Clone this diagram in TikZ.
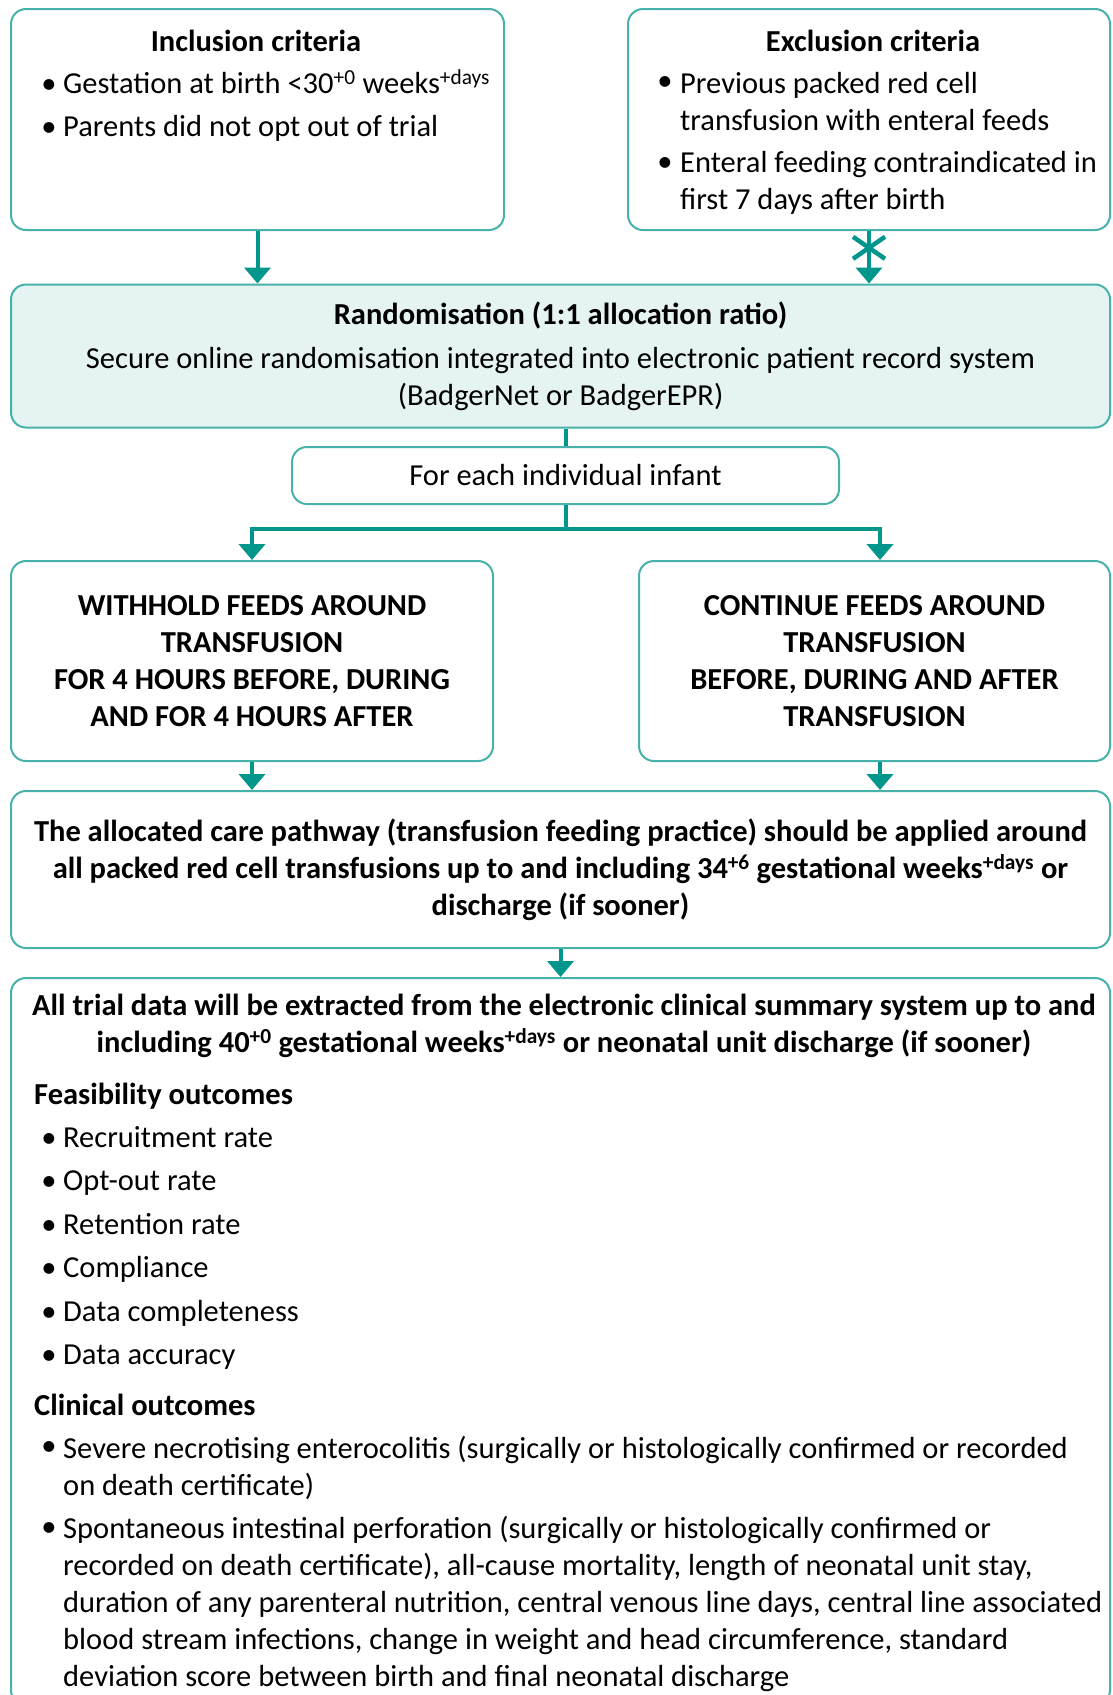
\documentclass[tikz,border=0pt]{standalone}
\usepackage{fontspec}
\setmainfont{Carlito}
\usetikzlibrary{arrows.meta,positioning}
\definecolor{tealline}{RGB}{0,150,140}
\definecolor{tealbox}{RGB}{70,178,170}
\definecolor{tealfill}{RGB}{229,244,242}

\begin{document}
\begin{tikzpicture}[x=1pt, y=-1pt,
  every node/.style = {font=\fontsize{30.5}{37}\selectfont, inner sep=0pt},
  box/.style = {draw=tealbox, line width=2pt, rounded corners=15pt, align=center},
  boldbox/.style = {box, font=\fontsize{30.5}{37}\selectfont\bfseries},
  txt/.style = {anchor=west, align=left},
  item/.style = {txt, text height=24pt, text depth=3pt},
  head/.style = {font=\fontsize{30.5}{37}\selectfont\bfseries},
  bulletmark/.style = {anchor=center, text height=24pt, text depth=3pt},
  conn/.style = {draw=tealline, line width=4pt},
  arr/.style = {conn, -{Triangle[width=26pt,length=16pt]}}]
  \useasboundingbox (0,0) rectangle (1112,1695);

  % boxes
  \node[box, minimum width=493pt, minimum height=221pt] (incl) at (257.5,119.5) {};
  \node[box, minimum width=482pt, minimum height=221pt] (excl) at (869,119.5) {};
  \node[box, fill=tealfill, minimum width=1099pt, minimum height=143pt] (rand) at (560.5,356)
    {\textbf{Randomisation (1:1 allocation ratio)}\\[7pt]
     Secure online randomisation integrated into electronic patient record system\\
     (BadgerNet or BadgerEPR)};
  \node[box, minimum width=547pt, minimum height=57pt] (each) at (565.5,475.5) {For each individual infant};
  \node[boldbox, minimum width=482pt, minimum height=200pt] (hold) at (252,661)
    {WITHHOLD FEEDS AROUND\\TRANSFUSION\\FOR 4 HOURS BEFORE, DURING\\AND FOR 4 HOURS AFTER};
  \node[boldbox, minimum width=471pt, minimum height=200pt] (cont) at (874.5,661)
    {CONTINUE FEEDS AROUND\\TRANSFUSION\\BEFORE, DURING AND AFTER\\TRANSFUSION};
  \node[boldbox, minimum width=1099pt, minimum height=157pt] (alloc) at (560.5,869.5)
    {The allocated care pathway (transfusion feeding practice) should be applied around\\
     all packed red cell transfusions up to and including 34\textsuperscript{+6} gestational weeks\textsuperscript{+days} or\\
     discharge (if sooner)};
  \node[box, minimum width=1099pt, minimum height=727pt] (final) at (560.5,1341.5) {};

  % inclusion / exclusion texts
  \node[head] (inclhead) at (256,41) {Inclusion criteria};
  \node[bulletmark] (inclb1) at (49,83) {\textbullet};
  \node[item] (incl1) at (63,83) {Gestation at birth <30\textsuperscript{+0} weeks\textsuperscript{+days}};
  \node[bulletmark] (inclb2) at (49,126) {\textbullet};
  \node[item] (incl2) at (63,126) {Parents did not opt out of trial};

  \node[head] (exclhead) at (873,41) {Exclusion criteria};
  \node[bulletmark] (exclb1) at (665,80) {\textbullet};
  \node[txt] (excl1) at (680,101.5) {Previous packed red cell\\transfusion with enteral feeds};
  \node[bulletmark] (exclb2) at (665,161) {\textbullet};
  \node[txt] (excl2) at (680,183) {Enteral feeding contraindicated in\\first 7 days after birth};

  % outcomes
  \node[head, align=center] (finalhead) at (564,1026)
    {All trial data will be extracted from the electronic clinical summary system up to and\\
     including 40\textsuperscript{+0} gestational weeks\textsuperscript{+days} or neonatal unit discharge (if sooner)};
  \node[head, anchor=west, text height=24pt, text depth=3pt] (feashead) at (34,1094) {Feasibility outcomes};
  \foreach \t [count=\i] in {Recruitment rate, Opt-out rate, Retention rate,
      Compliance, Data completeness, Data accuracy} {
    \pgfmathsetmacro\y{1137+(\i-1)*43.4}
    \node[bulletmark] (feasb\i) at (49,\y) {\textbullet};
    \node[item] (feas\i) at (63,\y) {\t};
  }
  \node[head, anchor=west, text height=24pt, text depth=3pt] (clinhead) at (34,1405) {Clinical outcomes};
  \node[bulletmark] (clinb1) at (49,1445) {\textbullet};
  \node[txt] (clin1) at (63,1468)
    {Severe necrotising enterocolitis (surgically or histologically confirmed or recorded\\
     on death certificate)};
  \node[bulletmark] (clinb2) at (49,1526) {\textbullet};
  \node[txt] (clin2) at (63,1604)
    {Spontaneous intestinal perforation (surgically or histologically confirmed or\\
     recorded on death certificate), all-cause mortality, length of neonatal unit stay,\\
     duration of any parenteral nutrition, central venous line days, central line associated\\
     blood stream infections, change in weight and head circumference, standard\\
     deviation score between birth and final neonatal discharge};

  % connectors
  \draw[arr] (incl.south) -- (incl.south |- rand.north);
  \draw[arr] (excl.south) -- coordinate[pos=0.32] (ast) (excl.south |- rand.north);
  \draw[conn, line width=4.5pt] ([shift={(-16,-11)}]ast) -- ([shift={(16,11)}]ast);
  \draw[conn, line width=4.5pt] ([shift={(-16,11)}]ast) -- ([shift={(16,-11)}]ast);
  \draw[conn] (rand.south -| each.north) -- (each.north);
  \draw[conn] (each.south) -- ++(0,24) coordinate (split);
  \draw[arr] (split) -| (hold.north);
  \draw[arr] (split) -| ([xshift=5.5pt]cont.north);
  \draw[arr] (hold.south) -- (hold.south |- alloc.north);
  \draw[arr] ([xshift=5.5pt]cont.south) -- ([xshift=5.5pt]cont.south |- alloc.north);
  \draw[arr] (alloc.south) -- (final.north);
\end{tikzpicture}
\end{document}
